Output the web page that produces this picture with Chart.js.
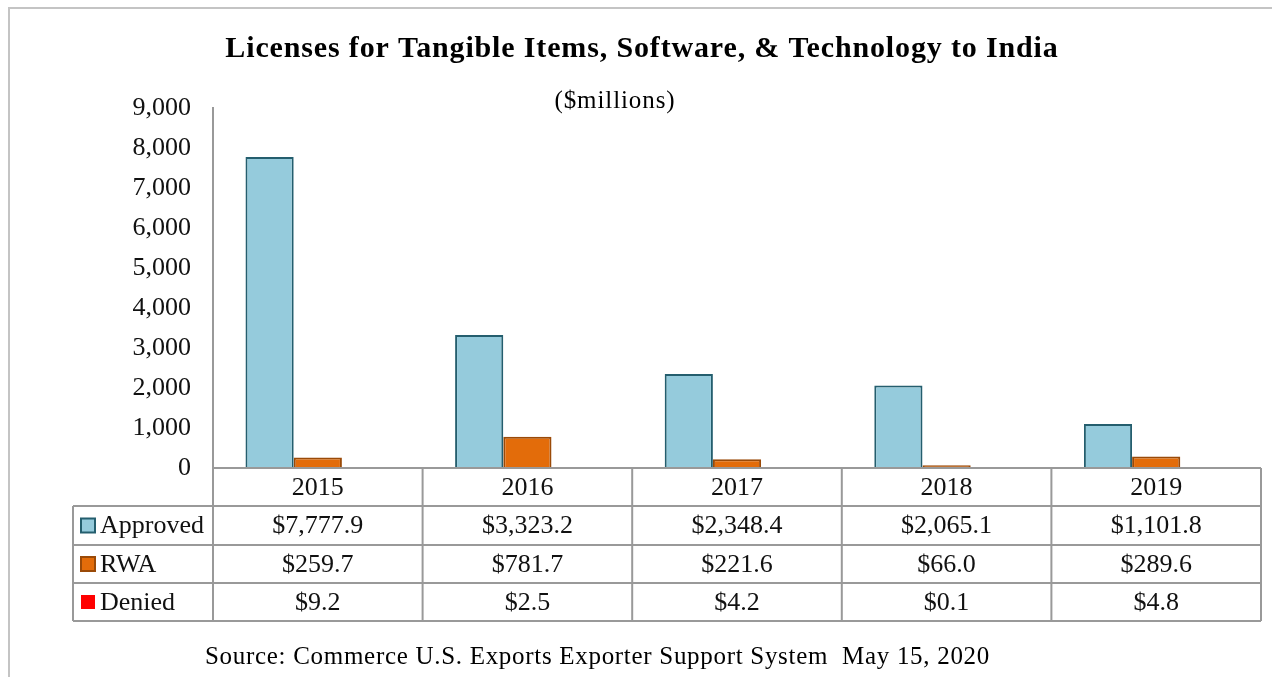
<!DOCTYPE html>
<html lang="en">
<head>
<meta charset="UTF-8">
<title>Licenses to India</title>
<script src="https://cdn.jsdelivr.net/npm/chart.js"></script>
<style>
    body { margin: 0; background: #fff; }
    .grafico { width: 1272px; height: 677px; position: relative; }
</style>
</head>
<body>
<div class="grafico">
    <canvas id="myChart"></canvas>
</div>

<script>
    var anos = ['2015', '2016', '2017', '2018', '2019'];
    var aprovados = [7777.9, 3323.2, 2348.4, 2065.1, 1101.8];
    var rwa = [259.7, 781.7, 221.6, 66.0, 289.6];
    var negados = [9.2, 2.5, 4.2, 0.1, 4.8];
    var nomesSeries = ['Approved', 'RWA', 'Denied'];

    var fonte = "'Liberation Serif', 'Times New Roman', serif";
    var corLinha = '#999999';

    function dinheiro(v) {
        return '$' + v.toLocaleString('en-US', { minimumFractionDigits: 1, maximumFractionDigits: 1 });
    }

    // desenha moldura, titulos e a tabela de dados embaixo
    const pluginTabela = {
        id: 'tabela',
        beforeDraw(chart) {
            const ctx = chart.ctx;
            ctx.save();
            ctx.fillStyle = '#fff';
            ctx.fillRect(0, 0, chart.width, chart.height);
            ctx.strokeStyle = '#c4c4c4';
            ctx.lineWidth = 2;
            ctx.beginPath();
            ctx.moveTo(9, chart.height);
            ctx.lineTo(9, 8);
            ctx.lineTo(chart.width, 8);
            ctx.stroke();
            ctx.restore();
        },
        afterDraw(chart) {
            const ctx = chart.ctx;
            const area = chart.chartArea;
            const x = chart.scales.x;
            const largura = (area.right - area.left) / anos.length;
            const esquerda = 73;
            const linhas = [area.bottom, area.bottom + 38, area.bottom + 77, area.bottom + 115, area.bottom + 153];

            ctx.save();
            ctx.fillStyle = '#000';
            ctx.textAlign = 'center';
            ctx.textBaseline = 'alphabetic';
            ctx.font = 'bold 30px ' + fonte;
            ctx.letterSpacing = '0.85px';
            ctx.fillText('Licenses for Tangible Items, Software, & Technology to India', 642, 57);
            ctx.font = '25px ' + fonte;
            ctx.letterSpacing = '0.9px';
            ctx.fillText('($millions)', 615, 108);
            ctx.textAlign = 'left';
            ctx.letterSpacing = '0.7px';
            ctx.fillText('Source: Commerce U.S. Exports Exporter Support System  May 15, 2020', 205, 664);
            ctx.letterSpacing = '0px';

            // linhas da tabela
            ctx.strokeStyle = corLinha;
            ctx.lineWidth = 2;
            ctx.beginPath();
            ctx.moveTo(area.left, linhas[0]);
            ctx.lineTo(area.right, linhas[0]);
            for (var i = 1; i < linhas.length; i++) {
                ctx.moveTo(esquerda, linhas[i]);
                ctx.lineTo(area.right, linhas[i]);
            }
            ctx.moveTo(esquerda, linhas[1]);
            ctx.lineTo(esquerda, linhas[4]);
            for (var c = 0; c <= anos.length; c++) {
                var xx = area.left + c * largura;
                ctx.moveTo(xx, linhas[0]);
                ctx.lineTo(xx, linhas[4]);
            }
            ctx.stroke();

            // textos
            ctx.font = '26px ' + fonte;
            ctx.fillStyle = '#111';
            ctx.textAlign = 'center';
            ctx.textBaseline = 'middle';
            var series = [aprovados, rwa, negados];
            anos.forEach(function (ano, i) {
                var cx = x.getPixelForValue(i);
                ctx.fillText(ano, cx, (linhas[0] + linhas[1]) / 2 + 1);
                series.forEach(function (s, j) {
                    ctx.fillText(dinheiro(s[i]), cx, (linhas[j + 1] + linhas[j + 2]) / 2 + 1);
                });
            });

            // legenda dentro da tabela
            ctx.textAlign = 'left';
            chart.data.datasets.forEach(function (ds, j) {
                var cy = (linhas[j + 1] + linhas[j + 2]) / 2;
                ctx.fillStyle = ds.backgroundColor;
                ctx.fillRect(81, cy - 7, 14, 14);
                if (ds.borderWidth > 0) {
                    ctx.strokeStyle = ds.borderColor;
                    ctx.lineWidth = 2;
                    ctx.strokeRect(81, cy - 7, 14, 14);
                }
                ctx.fillStyle = '#111';
                ctx.fillText(nomesSeries[j], 100, cy + 1);
            });
            ctx.restore();
        }
    };

    const data = {
        labels: anos,
        datasets: [{
            label: nomesSeries[0],
            data: aprovados,
            backgroundColor: '#95cbdc',
            borderColor: '#245e6e',
            borderWidth: 2
        }, {
            label: nomesSeries[1],
            data: rwa,
            backgroundColor: '#e36c0a',
            borderColor: '#9a4a08',
            borderWidth: 2
        }, {
            label: nomesSeries[2],
            data: negados,
            backgroundColor: '#ff0000',
            borderColor: '#ff0000',
            borderWidth: 0
        }]
    };

    const config = {
        type: 'bar',
        data: data,
        options: {
            responsive: true,
            maintainAspectRatio: false,
            animation: false,
            layout: {
                padding: { top: 108, bottom: 209, right: 11, left: 0 }
            },
            datasets: {
                bar: { barPercentage: 1, categoryPercentage: 0.69 }
            },
            plugins: {
                legend: { display: false },
                title: { display: false },
                tooltip: { enabled: false }
            },
            scales: {
                x: { display: false },
                y: {
                    min: 0,
                    max: 9000,
                    afterFit: function (scale) { scale.width = 213; },
                    grid: { display: false, drawTicks: false },
                    border: { display: true, color: corLinha, width: 2 },
                    ticks: {
                        stepSize: 1000,
                        padding: 22,
                        color: '#111',
                        font: { family: fonte, size: 26 },
                        callback: function (v) { return v.toLocaleString('en-US'); }
                    }
                }
            }
        },
        plugins: [pluginTabela]
    };

    const myChart = new Chart(document.getElementById('myChart'), config);
</script>
</body>
</html>
